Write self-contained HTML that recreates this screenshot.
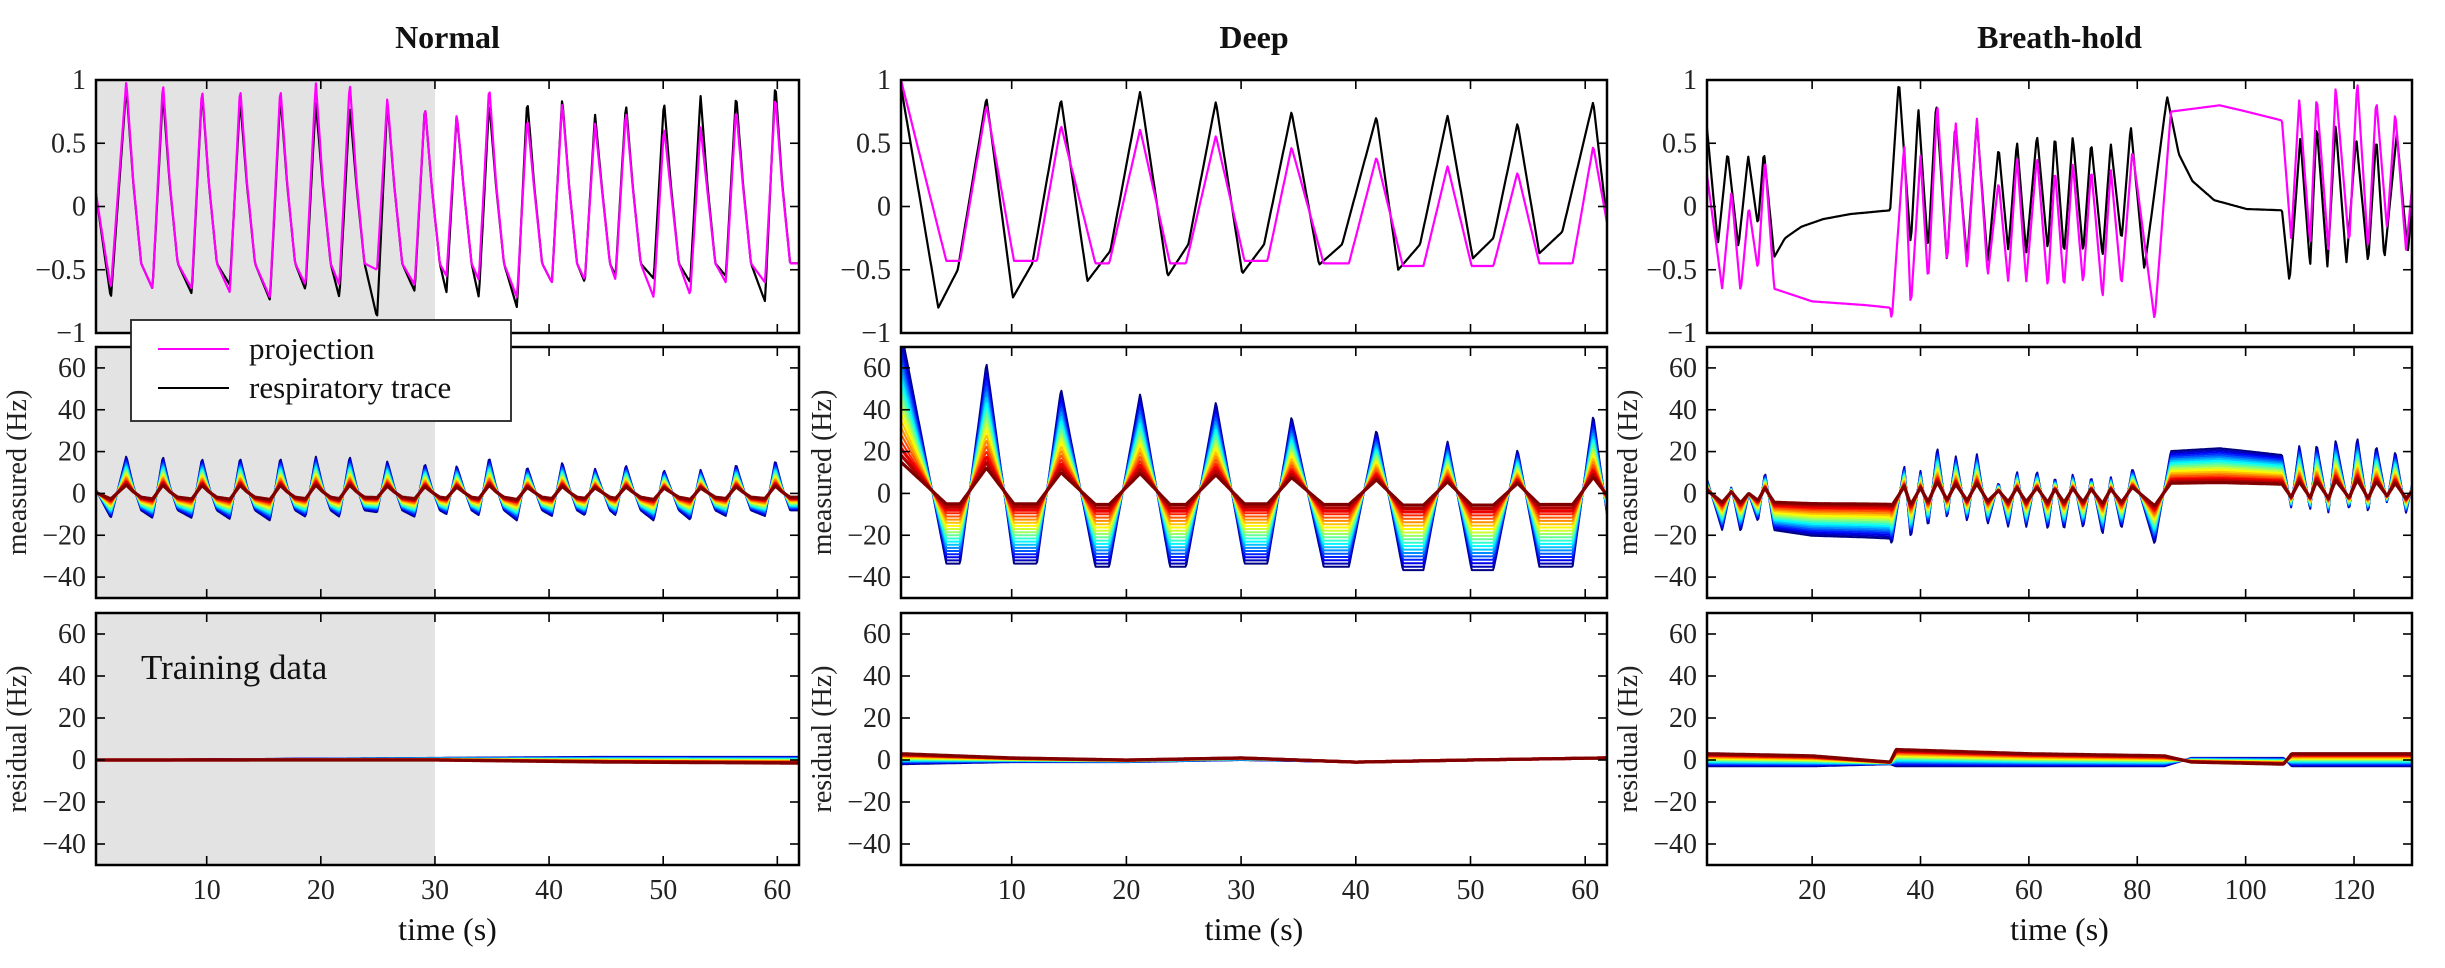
<!DOCTYPE html>
<html><head><meta charset="utf-8"><style>
html,body{margin:0;padding:0;background:#fff;}
svg{display:block;font-family:"Liberation Serif","DejaVu Serif",serif;}
svg text{font-family:"Liberation Serif","DejaVu Serif",serif;}
</style></head><body>
<svg id="fig" width="2445" height="968" viewBox="0 0 2445 968" xmlns="http://www.w3.org/2000/svg" font-family="Liberation Serif, DejaVu Serif, serif"></svg>
<script>
// ---------- data ----------
const normPeakT = [2.96,6.16,9.59,12.93,16.45,19.56,22.53,25.83,29.12,31.91,34.75,38.09,41.15,44.03,46.73,50.07,53.27,56.39,59.82];
const normBlackPeak = [0.95,0.9,0.91,0.85,0.88,0.83,0.8,0.83,0.8,0.73,0.83,0.85,0.86,0.73,0.82,0.84,0.88,0.89,0.98];
const normPinkPeak = [1.0,0.99,0.94,0.95,0.95,0.99,0.99,0.86,0.8,0.74,0.96,0.71,0.83,0.66,0.76,0.63,0.63,0.78,0.88];
const normBlackTrough = [-0.73,-0.65,-0.69,-0.62,-0.74,-0.66,-0.72,-0.88,-0.67,-0.68,-0.72,-0.8,-0.6,-0.6,-0.55,-0.57,-0.6,-0.55,-0.75];
const normPinkTrough = [-0.65,-0.65,-0.65,-0.68,-0.72,-0.62,-0.62,-0.5,-0.62,-0.55,-0.58,-0.72,-0.6,-0.58,-0.58,-0.72,-0.7,-0.6,-0.6];

const deepPinkT = [0.35,4.3,5.5,7.8,10.2,12.2,14.3,17.3,18.5,21.2,23.8,25.2,27.8,30.3,32.3,34.4,37.2,39.4,41.8,44.1,45.9,48.0,50.1,52.0,54.1,56.0,58.9,60.7,61.9];
const deepPinkV = [1.0,-0.43,-0.43,0.80,-0.43,-0.43,0.64,-0.45,-0.45,0.61,-0.45,-0.45,0.56,-0.43,-0.43,0.47,-0.45,-0.45,0.39,-0.47,-0.47,0.32,-0.47,-0.47,0.27,-0.45,-0.45,0.48,-0.13];
const deepBlackT = [0.35,3.6,5.3,7.8,10.1,11.8,14.3,16.6,18.6,21.2,23.6,25.4,27.8,30.1,32.0,34.4,36.8,38.8,41.8,43.7,45.6,48.0,50.2,52.0,54.1,56.0,58.0,60.7,61.9];
const deepBlackV = [0.95,-0.80,-0.5,0.86,-0.72,-0.45,0.85,-0.59,-0.35,0.91,-0.55,-0.3,0.83,-0.53,-0.3,0.75,-0.46,-0.3,0.71,-0.5,-0.3,0.72,-0.41,-0.25,0.66,-0.37,-0.2,0.83,-0.12];

const bhBlackT = [0.6,2.6,4.4,6.4,8.2,10.0,11.1,13.0,15,18,22,27,34.4,36.0,38.2,39.6,41.4,42.9,44.9,46.4,48.6,50.4,52.4,54.4,56.2,57.8,59.5,61.5,63.5,64.8,66.5,68.1,70.0,71.5,73.6,75.1,77.1,78.8,81.3,85.5,87.7,90.2,94.2,100.2,106.7,108.1,110.1,111.9,113.1,115.1,116.6,118.6,120.4,122.6,124.1,125.6,127.9,129.9,130.7];
const bhBlackV = [0.62,-0.3,0.43,-0.32,0.4,-0.15,0.44,-0.4,-0.25,-0.16,-0.1,-0.06,-0.03,1.0,-0.3,0.78,-0.35,0.83,-0.45,0.65,-0.42,0.68,-0.45,0.47,-0.35,0.52,-0.37,0.57,-0.35,0.57,-0.38,0.56,-0.37,0.51,-0.4,0.5,-0.27,0.64,-0.5,0.87,0.41,0.2,0.05,-0.02,-0.03,-0.6,0.55,-0.48,0.65,-0.48,0.65,-0.45,0.55,-0.45,0.55,-0.42,0.58,-0.37,0.0];
const bhPinkT = [0.6,3.4,5.1,6.8,8.3,10.0,11.3,13.0,20,30,34.4,34.7,37.0,38.2,40.0,41.4,43.1,44.9,46.5,48.6,50.4,52.4,54.4,56.2,57.8,59.5,61.5,63.5,64.8,66.5,68.1,70.0,71.5,73.6,75.1,77.1,79.1,83.2,86.2,95.2,100.2,106.7,108.4,109.9,111.9,113.1,115.3,116.6,119.1,120.6,122.6,124.1,126.1,127.6,129.6,130.7];
const bhPinkV = [0.25,-0.65,0.12,-0.68,0.0,-0.5,0.38,-0.65,-0.75,-0.78,-0.8,-0.9,0.5,-0.8,0.4,-0.6,0.82,-0.45,0.66,-0.5,0.7,-0.55,0.2,-0.6,0.4,-0.6,0.4,-0.65,0.3,-0.65,0.35,-0.62,0.3,-0.73,0.3,-0.63,0.45,-0.9,0.75,0.8,0.75,0.68,-0.25,0.85,-0.3,0.88,-0.35,0.95,-0.3,1.0,-0.35,0.85,-0.18,0.75,-0.35,0.15];

const measGainBlue = [18, 78, 27];
const measGainRed = [4, 14, 6.5];
const measOffRed = [0, 1, 0];

const normResT = [0.3,30,45,61.9];
const normResBlue = [0,1,1.5,1.5];
const normResRed = [0,0,-1,-1.5];
const deepResT = [0.35,10,20,30,40,50,61.9];
const deepResBlue = [-2,-1,-1,0,-1,0,1];
const deepResRed = [3,1,0,1,-1,0,1];
const bhResT = [0.6,20,34.4,35.5,60,85,90,107,108.5,130.7];
const bhResBlue = [-3,-3,-2,-3,-3,-3,1,1,-3,-3];
const bhResRed = [3,2,-1,5,3,2,-1,-2,3,3];

const titles = ["Normal","Deep","Breath-hold"];
const xTickVals = [[10,20,30,40,50,60],[10,20,30,40,50,60],[20,40,60,80,100,120]];
const topTicks = [1,0.5,0,-0.5,-1];
const hzTicks = [60,40,20,0,-20,-40];
const xRanges = [[0.3,61.9],[0.35,61.9],[0.6,130.7]];
const trainingEnd = 30;

// ---------- layout ----------
const NS = "http://www.w3.org/2000/svg";
const FONT = '"Liberation Serif","DejaVu Serif",serif';
const svg = document.getElementById('fig');
const colX = [[96,799],[901,1607],[1707,2412]];
const rowY = [[80,333],[347,598],[613,865]];
const yRanges = [[-1,1],[-50,70],[-50,70]];
const NCH = 20;

function el(tag, attrs, parent){
  const e = document.createElementNS(NS, tag);
  for (const k in attrs) e.setAttribute(k, attrs[k]);
  if (tag==='text') e.style.fontFamily = FONT;
  (parent||svg).appendChild(e);
  return e;
}
function fmt(v){ return (v<0 ? "\u2212" + Math.abs(v) : String(v)); }
function interp(T, V, t){
  if (t <= T[0]) return V[0];
  for (let i=1;i<T.length;i++){ if (t <= T[i]){ const f=(t-T[i-1])/(T[i]-T[i-1]); return V[i-1]+f*(V[i]-V[i-1]); } }
  return V[V.length-1];
}
function jet(f){
  const c = x => Math.round(255*Math.max(0,Math.min(1,x)));
  return `rgb(${c(1.5-Math.abs(4*f-3))},${c(1.5-Math.abs(4*f-2))},${c(1.5-Math.abs(4*f-1))})`;
}
function normKeys(peaks, troughs){
  const T=[xRanges[0][0]], V=[0.1];
  T.push(1.6); V.push(troughs[0]);
  for (let i=0;i<normPeakT.length;i++){
    if (i>0){ T.push(normPeakT[i]-0.9); V.push(troughs[i]); }
    T.push(normPeakT[i]); V.push(peaks[i]);
    T.push(normPeakT[i]+0.6); V.push(peaks[i]*0.2);
    T.push(normPeakT[i]+1.3); V.push(-0.45);
  }
  T.push(xRanges[0][1]); V.push(-0.45);
  return [T,V];
}
const nb = normKeys(normBlackPeak, normBlackTrough);
const np = normKeys(normPinkPeak, normPinkTrough);
const blackSeries = [[nb[0],nb[1]],[deepBlackT,deepBlackV],[bhBlackT,bhBlackV]];
const pinkSeries = [[np[0],np[1]],[deepPinkT,deepPinkV],[bhPinkT,bhPinkV]];
const resSeries = [[normResT,normResBlue,normResRed],[deepResT,deepResBlue,deepResRed],[bhResT,bhResBlue,bhResRed]];

for (let c=0;c<3;c++){
  const [x0,x1] = colX[c];
  const [t0,t1] = xRanges[c];
  const sx = t => x0 + (t-t0)/(t1-t0)*(x1-x0);
  const step = (t1-t0)/700;
  const ts = []; for (let t=t0;t<=t1+1e-9;t+=step) ts.push(t);

  const title = el('text',{x:(x0+x1)/2,y:48,'text-anchor':'middle','font-size':32,'font-weight':'bold',fill:'#111'});
  
  
  title.textContent = titles[c];

  for (let r=0;r<3;r++){
    const [y0,y1] = rowY[r];
    const [v0,v1] = yRanges[r];
    const sy = v => y1 - (v-v0)/(v1-v0)*(y1-y0);
    const g = el('g',{});
    
    
    const clipId = 'clip'+c+'_'+r;
    const cp = el('clipPath',{id:clipId},g);
    el('rect',{x:x0,y:y0,width:x1-x0,height:y1-y0},cp);

    if (c===0){
      const sh = el('rect',{x:x0,y:y0,width:sx(trainingEnd)-x0,height:y1-y0,fill:'#e3e3e3'},g);
      
      
    }
    const plot = el('g',{'clip-path':`url(#${clipId})`},g);

    if (r===0){
      const [bT,bV] = blackSeries[c], [pT,pV] = pinkSeries[c];
      const bl = el('polyline',{points:ts.map(t=>sx(t).toFixed(1)+','+sy(interp(bT,bV,t)).toFixed(1)).join(' '),fill:'none',stroke:'#000','stroke-width':2.2,'stroke-linejoin':'round'},plot);
      
      
      const pl = el('polyline',{points:ts.map(t=>sx(t).toFixed(1)+','+sy(interp(pT,pV,t)).toFixed(1)).join(' '),fill:'none',stroke:'#ff00ff','stroke-width':2.2,'stroke-linejoin':'round'},plot);
      
      
    } else {
      const [pT,pV] = pinkSeries[c];
      for (let k=0;k<NCH;k++){
        const f = k/(NCH-1);
        let pts;
        if (r===1){
          const gain = measGainBlue[c] + (measGainRed[c]-measGainBlue[c])*f;
          const off = measOffRed[c]*f;
          pts = ts.map(t=>sx(t).toFixed(1)+','+sy(gain*interp(pT,pV,t)+off).toFixed(1));
        } else {
          const [rT,rB,rR] = resSeries[c];
          pts = ts.map(t=>{const b=interp(rT,rB,t), rr=interp(rT,rR,t); return sx(t).toFixed(1)+','+sy(b+(rr-b)*f).toFixed(1);});
        }
        const ln = el('polyline',{points:pts.join(' '),fill:'none',stroke:jet(f),'stroke-width':(k>=NCH-3?3.2:2),'stroke-linejoin':'round'},plot);
        
        
      }
    }
    const tk = r===0 ? topTicks : hzTicks;
    tk.forEach(v=>{
      const y = sy(v);
      el('line',{x1:x0,x2:x0+9,y1:y,y2:y,stroke:'#000','stroke-width':1.6},g);
      el('line',{x1:x1,x2:x1-9,y1:y,y2:y,stroke:'#000','stroke-width':1.6},g);
      const lb = el('text',{x:x0-10,y:y+9,'text-anchor':'end','font-size':28,fill:'#222'},g);
      
      
      lb.textContent = fmt(v);
    });
    xTickVals[c].forEach(v=>{
      const x = sx(v);
      el('line',{x1:x,x2:x,y1:y1,y2:y1-9,stroke:'#000','stroke-width':1.6},g);
      el('line',{x1:x,x2:x,y1:y0,y2:y0+9,stroke:'#000','stroke-width':1.6},g);
      if (r===2){
        const lb = el('text',{x:x,y:899,'text-anchor':'middle','font-size':28,fill:'#222'},g);
        
        
        lb.textContent = fmt(v);
      }
    });
    el('rect',{x:x0,y:y0,width:x1-x0,height:y1-y0,fill:'none',stroke:'#000','stroke-width':2.5},g);
    if (r>0){
      const yl = el('text',{x:0,y:0,'text-anchor':'middle','font-size':28,fill:'#222',transform:`translate(${x0-70},${(y0+y1)/2}) rotate(-90)`},g);
      
      
      yl.textContent = r===1 ? 'measured (Hz)' : 'residual (Hz)';
    }
  }
  const xl = el('text',{x:(x0+x1)/2,y:940,'text-anchor':'middle','font-size':32,fill:'#111'});
  
  
  xl.textContent = 'time (s)';
}

const lg = el('g',{});


el('rect',{x:131,y:320,width:380,height:101,fill:'#fff',stroke:'#222','stroke-width':1.8},lg);
el('line',{x1:158,x2:229,y1:349,y2:349,stroke:'#ff00ff','stroke-width':2},lg);
el('line',{x1:158,x2:229,y1:388,y2:388,stroke:'#000','stroke-width':2},lg);
const l1 = el('text',{x:249,y:359,'font-size':31,fill:'#111'},lg);


l1.textContent = 'projection';
const l2 = el('text',{x:249,y:398,'font-size':31,fill:'#111'},lg);


l2.textContent = 'respiratory trace';

const td = el('text',{x:141,y:679,'font-size':35,fill:'#111'});


td.textContent = 'Training data';
</script>
</body></html>
